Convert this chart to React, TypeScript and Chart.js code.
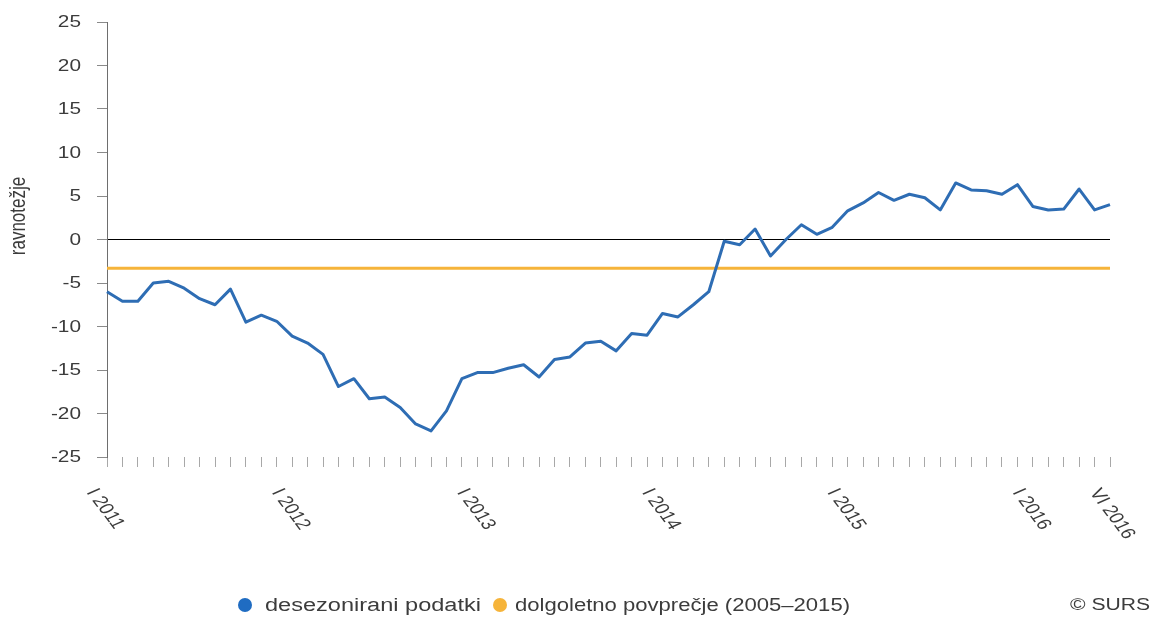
import React, { useEffect, useRef } from 'react';
import { Chart, registerables } from 'chart.js';

Chart.register(...registerables);

const romanMonths = ['I', 'II', 'III', 'IV', 'V', 'VI', 'VII', 'VIII', 'IX', 'X', 'XI', 'XII'];
const firstYear = 2011;
const lastYear = 2016;
const lastMonthIndex = 5; // VI

const categories: string[] = [];
for (let y = firstYear; y <= lastYear; y++) {
  for (let m = 0; m < 12; m++) {
    if (y === lastYear && m > lastMonthIndex) break;
    categories.push(`${romanMonths[m]} ${y}`);
  }
}

// desezonirani podatki (ravnotežje)
const seasonallyAdjusted = [
  -6.0, -7.1, -7.1, -5.0, -4.8, -5.6, -6.8, -7.5, -5.7, -9.5, -8.7, -9.4,
  -11.1, -11.9, -13.2, -16.9, -16.0, -18.3, -18.1, -19.3, -21.2, -22.0, -19.7, -16.0,
  -15.3, -15.3, -14.8, -14.4, -15.8, -13.8, -13.5, -11.9, -11.7, -12.8, -10.8, -11.0,
  -8.5, -8.9, -7.5, -6.0, -0.2, -0.6, 1.2, -1.9, 0.0, 1.7, 0.6, 1.4,
  3.3, 4.2, 5.4, 4.5, 5.2, 4.8, 3.4, 6.5, 5.7, 5.6, 5.2, 6.3,
  3.8, 3.4, 3.5, 5.8, 3.4, 4.0,
];

// dolgoletno povprečje (2005–2015)
const longTermAverage = [
  -3.3, -3.3, -3.3, -3.3, -3.3, -3.3, -3.3, -3.3, -3.3, -3.3, -3.3, -3.3,
  -3.3, -3.3, -3.3, -3.3, -3.3, -3.3, -3.3, -3.3, -3.3, -3.3, -3.3, -3.3,
  -3.3, -3.3, -3.3, -3.3, -3.3, -3.3, -3.3, -3.3, -3.3, -3.3, -3.3, -3.3,
  -3.3, -3.3, -3.3, -3.3, -3.3, -3.3, -3.3, -3.3, -3.3, -3.3, -3.3, -3.3,
  -3.3, -3.3, -3.3, -3.3, -3.3, -3.3, -3.3, -3.3, -3.3, -3.3, -3.3, -3.3,
  -3.3, -3.3, -3.3, -3.3, -3.3, -3.3,
];

const shownTickIndices = [0, 12, 24, 36, 48, 60, 65];
const yMin = -25;
const yMax = 25;
const yStep = 5;

const yTitle = 'ravnotežje';
const seriesNames = ['desezonirani podatki', 'dolgoletno povprečje (2005–2015)'];
const creditText = '© SURS';

const BLUE = '#2e6db4';
const ORANGE = '#f6b43a';
const TEXT = '#3c3c3c';
const FONT = '"Liberation Sans", Arial, sans-serif';
const STRETCH = 1.3;

function stretchedText(
  ctx: CanvasRenderingContext2D,
  text: string,
  x: number,
  y: number,
  sx: number,
  align: CanvasTextAlign = 'left'
) {
  ctx.save();
  ctx.translate(x, y);
  ctx.scale(sx, 1);
  ctx.textAlign = align;
  ctx.fillText(text, 0, 0);
  ctx.restore();
}

function fittedText(ctx: CanvasRenderingContext2D, text: string, x: number, y: number, width: number) {
  const natural = ctx.measureText(text).width;
  stretchedText(ctx, text, x, y, width / natural, 'left');
}

const textPlugin = {
  id: 'sursText',
  afterDraw(chart: any) {
    const ctx: CanvasRenderingContext2D = chart.ctx;
    const xs = chart.scales.x;
    const ys = chart.scales.y;
    ctx.save();
    ctx.fillStyle = TEXT;
    ctx.textBaseline = 'middle';

    // y tick labels
    ctx.font = `16px ${FONT}`;
    ys.ticks.forEach((t: any) => {
      const y = ys.getPixelForValue(t.value);
      stretchedText(ctx, String(t.value), 81, y + 1, STRETCH, 'right');
    });

    // rotated x labels
    ctx.font = `16px ${FONT}`;
    ctx.textAlign = 'left';
    shownTickIndices.forEach((i) => {
      const x = xs.getPixelForValue(i);
      ctx.save();
      ctx.translate(x - 16, 490);
      ctx.scale(STRETCH, 1);
      ctx.rotate((60 * Math.PI) / 180);
      ctx.fillText(categories[i], 0, 0);
      ctx.restore();
    });

    // y title
    ctx.save();
    ctx.translate(19, 216);
    ctx.scale(STRETCH, 1);
    ctx.rotate(-Math.PI / 2);
    ctx.textAlign = 'center';
    ctx.font = `17px ${FONT}`;
    ctx.fillText(yTitle, 0, 0);
    ctx.restore();

    // legend
    const ly = 605;
    ctx.font = `18px ${FONT}`;
    ctx.beginPath();
    ctx.fillStyle = '#1f6cc2';
    ctx.arc(245, ly, 7, 0, Math.PI * 2);
    ctx.fill();
    ctx.fillStyle = TEXT;
    fittedText(ctx, seriesNames[0], 265, ly + 1, 216);

    ctx.beginPath();
    ctx.fillStyle = ORANGE;
    ctx.arc(500, ly, 7, 0, Math.PI * 2);
    ctx.fill();
    ctx.fillStyle = TEXT;
    fittedText(ctx, seriesNames[1], 515, ly + 1, 335);

    ctx.font = `16px ${FONT}`;
    fittedText(ctx, creditText, 1070, ly + 1, 80);

    ctx.restore();
  },
};

export default function App() {
  const canvasRef = useRef<HTMLCanvasElement | null>(null);

  useEffect(() => {
    if (!canvasRef.current) return;
    const chart = new Chart(canvasRef.current, {
      type: 'line',
      data: {
        labels: categories,
        datasets: [
          {
            label: seriesNames[0],
            data: seasonallyAdjusted,
            borderColor: BLUE,
            backgroundColor: BLUE,
            borderWidth: 3,
            pointRadius: 0,
            tension: 0,
            borderJoinStyle: 'round',
          },
          {
            label: seriesNames[1],
            data: longTermAverage,
            borderColor: ORANGE,
            backgroundColor: ORANGE,
            borderWidth: 3,
            pointRadius: 0,
            tension: 0,
          },
        ],
      },
      options: {
        responsive: false,
        animation: false,
        layout: { padding: { top: 22, right: 46, left: 0, bottom: 0 } },
        plugins: {
          legend: { display: false },
          tooltip: { enabled: false },
          title: { display: false },
        },
        scales: {
          x: {
            type: 'category',
            offset: false,
            border: { display: false },
            grid: {
              display: true,
              drawOnChartArea: false,
              drawTicks: true,
              tickLength: 10,
              color: '#a8a8a8',
              tickColor: '#a8a8a8',
            },
            ticks: { display: false, autoSkip: false, maxRotation: 0 },
            afterFit: (scale: any) => {
              scale.height = 161;
            },
          },
          y: {
            min: yMin,
            max: yMax,
            border: { display: true, color: '#6e6e6e', width: 1 },
            grid: {
              drawOnChartArea: true,
              drawTicks: true,
              tickLength: 10,
              color: (c: any) => (c.tick && c.tick.value === 0 ? '#000000' : 'rgba(0,0,0,0)'),
              tickColor: '#8a8a8a',
              lineWidth: 1,
            },
            ticks: {
              stepSize: yStep,
              display: false,
            },
            afterFit: (scale: any) => {
              scale.width = 107;
            },
          },
        },
      },
      plugins: [textPlugin],
    });
    return () => chart.destroy();
  }, []);

  return (
    <div style={{ position: 'absolute', left: 0, top: 0, width: 1156, height: 618, background: '#fff' }}>
      <canvas ref={canvasRef} width={1156} height={618} style={{ display: 'block' }} />
    </div>
  );
}
